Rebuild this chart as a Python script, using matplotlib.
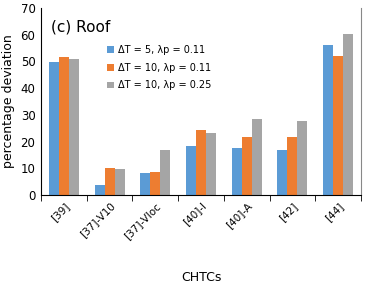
import matplotlib
matplotlib.use("Agg")
import matplotlib.pyplot as plt
import numpy as np

categories = ["[39]", "[37]-V10", "[37]-Vloc", "[40]-I", "[40]-A", "[42]", "[44]"]
s1 = [49.8, 3.7, 8.1, 18.2, 17.5, 16.9, 56.0]
s2 = [51.5, 10.1, 8.5, 24.3, 21.6, 21.6, 51.9]
s3 = [51.0, 9.8, 16.9, 23.3, 28.3, 27.6, 60.2]
labels = ["ΔT = 5, λp = 0.11", "ΔT = 10, λp = 0.11", "ΔT = 10, λp = 0.25"]
colors = ["#5B9BD5", "#ED7D31", "#A5A5A5"]

plt.rcParams['font.family'] = ['DejaVu Sans']
fig = plt.figure(figsize=(3.66, 2.87), dpi=100)
ax = fig.add_axes([41/366, 1-195/287, 320/366, 187/287])

x = np.arange(len(categories))
w = 0.219
for i, (s, c, l) in enumerate(zip([s1, s2, s3], colors, labels)):
    ax.bar(x + (i - 1) * w, s, w, color=c, label=l)

ax.set_xlim(-0.5, len(categories) - 0.5)
ax.set_ylim(0, 70)
ax.set_yticks(range(0, 71, 10))
ax.tick_params(axis='y', length=0, labelsize=8.5, pad=4)
ax.set_xticks(x)
ax.set_xticklabels(categories, rotation=45, ha='right', rotation_mode='anchor', fontsize=7.5)
ax.tick_params(axis='x', length=0, pad=4)
ax.set_xticks(np.arange(-0.5, len(categories), 1), minor=True)
ax.tick_params(axis='x', which='minor', length=4, direction='out', color='black')
for sp in ['top']:
    ax.spines[sp].set_visible(False)
ax.spines['right'].set_color('#888888')
ax.spines['left'].set_color('black')
ax.spines['bottom'].set_color('black')

ax.set_ylabel("percentage deviation", fontsize=9, labelpad=4)
ax.set_xlabel("CHTCs", fontsize=9, labelpad=22)
ax.text(0.03, 0.94, "(c) Roof", transform=ax.transAxes, fontsize=11, va='top', ha='left')
leg = ax.legend(loc='upper left', bbox_to_anchor=(0.18, 0.85), frameon=False, fontsize=7,
                handlelength=0.7, handleheight=0.7, handletextpad=0.4, labelspacing=0.8)

fig.savefig("out.png", dpi=100)
